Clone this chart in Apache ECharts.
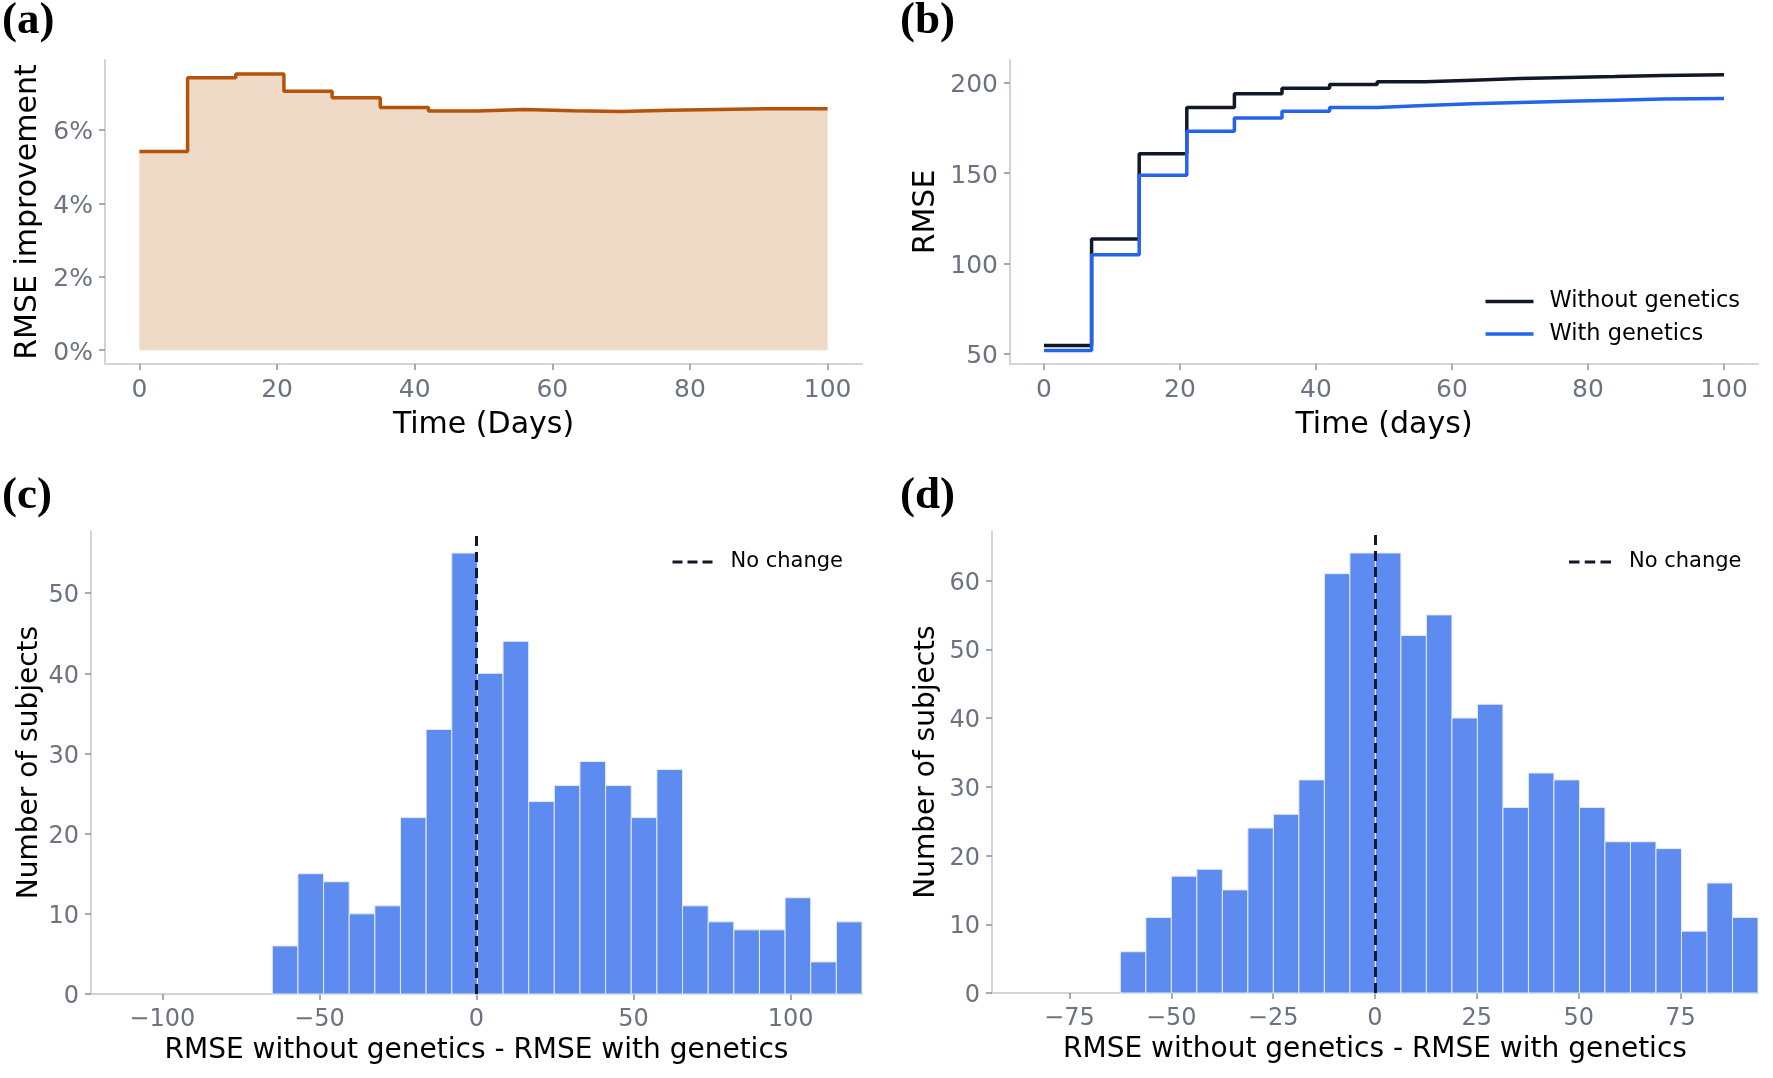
<!DOCTYPE html>
<html>
<head>
<meta charset="utf-8">
<title>RMSE with and without genetics</title>
<script src="https://cdn.jsdelivr.net/npm/echarts@6/dist/echarts.min.js"></script>
<style>
    * { margin: 0; padding: 0; }
    html, body { width: 1773px; height: 1078px; background: #fff; overflow: hidden; }
    #chart { width: 1773px; height: 1078px; }
</style>
</head>
<body>
<div id="chart"></div>
<script>
    // (a) and (b): each value holds from its day until the next day (step plot)
    var days = [0, 7, 14, 21, 28, 35, 42, 49, 56, 63, 70, 77, 84, 91, 100];
    var improvement = [5.41, 7.42, 7.52, 7.05, 6.87, 6.61, 6.51, 6.55, 6.52, 6.50, 6.53, 6.55, 6.57, 6.57, 6.57];
    var rmseWithout = [54.6, 113.5, 160.8, 186.3, 193.9, 197.0, 199.1, 200.6, 201.5, 202.4, 203.0, 203.5, 204.1, 204.5, 204.5];
    var rmseWith = [51.8, 104.9, 148.8, 173.2, 180.6, 184.3, 186.3, 187.4, 188.4, 189.1, 189.8, 190.4, 191.0, 191.3, 191.3];

    // (c) histogram
    var cEdges = [-65.00, -56.84, -48.68, -40.52, -32.36, -24.20, -16.03, -7.87, 0.29, 8.45, 16.61, 24.77,
        32.93, 41.09, 49.25, 57.42, 65.58, 73.74, 81.90, 90.06, 98.22, 106.38, 114.54, 122.70];
    var cCounts = [6, 15, 14, 10, 11, 22, 33, 55, 40, 44, 24, 26, 29, 26, 22, 28, 11, 9, 8, 8, 12, 4, 9];

    // (d) histogram
    var dEdges = [-62.50, -56.24, -49.98, -43.72, -37.46, -31.20, -24.94, -18.68, -12.42, -6.16, 0.10, 6.36,
        12.62, 18.88, 25.14, 31.40, 37.66, 43.92, 50.18, 56.44, 62.70, 68.96, 75.22, 81.48, 87.74, 94.00];
    var dCounts = [6, 11, 17, 18, 15, 24, 26, 31, 61, 64, 64, 52, 55, 40, 42, 27, 32, 31, 27, 22, 22, 21, 9, 16, 11];

    // tick labels
    var aXTicks = [0, 20, 40, 60, 80, 100];
    var aYTicks = [0, 2, 4, 6];
    var bYTicks = [50, 100, 150, 200];
    var cXTicks = [-100, -50, 0, 50, 100];
    var cYTicks = [0, 10, 20, 30, 40, 50];
    var dXTicks = [-75, -50, -25, 0, 25, 50, 75];
    var dYTicks = [0, 10, 20, 30, 40, 50, 60];

    var FONT = 'DejaVu Sans';
    var GRAY = '#6b7280';
    var SPINE = '#d1d5db';
    var INK = '#111827';

    function pairs(xs, ys) {
        return xs.map(function (x, i) { return [x, ys[i]]; });
    }
    function bins(edges, counts) {
        return counts.map(function (n, i) { return [edges[i], edges[i + 1], n]; });
    }
    function minus(v) {
        return v < 0 ? '\u2212' + Math.abs(v) : String(v);
    }

    // opt: name, gap, rotate (y axis), fmt, big (panels a/b use slightly larger text)
    function axis(grid, min, max, ticks, opt) {
        opt = opt || {};
        var isY = !!opt.rotate;
        var fmt = opt.fmt || minus;
        var size = opt.big ? 25 : 24;
        return {
            type: 'value', gridIndex: grid, min: min, max: max,
            name: opt.name || '', nameLocation: 'middle', nameGap: opt.gap || 40,
            nameRotate: opt.rotate || 0,
            nameTextStyle: { fontFamily: FONT, fontSize: opt.big ? 30 : 28, color: '#000' },
            axisLine: { show: true, onZero: false, lineStyle: { color: SPINE, width: 2 } },
            axisTick: { show: true, length: 6, customValues: ticks, lineStyle: { color: '#8b919c', width: 1.5 } },
            axisLabel: {
                customValues: ticks, margin: isY ? 12 : 14, fontFamily: FONT,
                fontSize: size, color: GRAY,
                // y labels sit a little below the tick, like matplotlib's center_baseline
                formatter: isY ? function (v) { return '{v|' + fmt(v) + '}'; } : fmt,
                rich: { v: { fontFamily: FONT, fontSize: size, color: GRAY, padding: [6, 0, 0, 0] } }
            },
            splitLine: { show: false }
        };
    }

    function histItem(params, api) {
        var lo = api.coord([api.value(0), 0]);
        var hi = api.coord([api.value(1), api.value(2)]);
        return {
            type: 'rect',
            shape: { x: lo[0], y: hi[1], width: hi[0] - lo[0], height: lo[1] - hi[1] },
            style: { fill: '#5d8bef', stroke: '#e6ebf8', lineWidth: 1 }
        };
    }

    function noChange(grid) {
        return {
            type: 'line', name: 'No change', xAxisIndex: grid, yAxisIndex: grid,
            data: [], symbol: 'none',
            itemStyle: { color: INK },
            lineStyle: { color: INK, width: 3, type: [10, 6] },
            markLine: {
                silent: true, symbol: 'none', label: { show: false },
                lineStyle: { color: INK, width: 3, type: [10, 6] },
                data: [{ xAxis: 0 }]
            },
            z: 5
        };
    }

    function panelTitle(txt, left, top) {
        return {
            text: txt, left: left, top: top, padding: 0,
            textStyle: { fontFamily: 'Liberation Serif', fontWeight: 'bold', fontSize: 45, color: '#000' }
        };
    }

    // dashed legend sample: three short bars
    var DASHES = 'path://M0,0h10v3h-10z M15,0h10v3h-10z M30,0h10v3h-10z';
    var smallLegendText = { fontFamily: FONT, fontSize: 21, lineHeight: 22, color: '#000', padding: [0, 0, 0, 13] };

    var chart = echarts.init(document.getElementById('chart'), null, { renderer: 'canvas' });
    chart.setOption({
        animation: false,
        backgroundColor: '#fff',
        title: [
            panelTitle('(a)', 2, -1),
            panelTitle('(b)', 900, -1),
            panelTitle('(c)', 2, 474),
            panelTitle('(d)', 900, 474)
        ],
        legend: [
            {
                data: ['Without genetics', 'With genetics'], orient: 'vertical',
                left: 1480.5, top: 285, icon: 'rect', itemWidth: 48, itemHeight: 3.5, itemGap: 9.5,
                textStyle: { fontFamily: FONT, fontSize: 22.5, lineHeight: 22, color: '#000', padding: [0, 0, 0, 11] }
            },
            {
                data: ['No change'], left: 667.5, top: 546, icon: DASHES, itemWidth: 40, itemHeight: 3.5,
                textStyle: smallLegendText
            },
            {
                data: ['No change'], left: 1564, top: 546, icon: DASHES, itemWidth: 42, itemHeight: 3.5,
                textStyle: smallLegendText
            }
        ],
        grid: [
            { left: 105, top: 60, width: 757, height: 304 },
            { left: 1010, top: 60, width: 748, height: 304 },
            { left: 91, top: 531, width: 771, height: 463 },
            { left: 992, top: 531, width: 766, height: 462 }
        ],
        xAxis: [
            axis(0, -5, 105, aXTicks, { name: 'Time (Days)', gap: 46, big: true }),
            axis(1, -5, 105, aXTicks, { name: 'Time (days)', gap: 46, big: true }),
            axis(2, -122.7, 122.7, cXTicks, { name: 'RMSE without genetics - RMSE with genetics', gap: 43 }),
            axis(3, -94, 94, dXTicks, { name: 'RMSE without genetics - RMSE with genetics', gap: 43 })
        ],
        yAxis: [
            axis(0, -0.376, 7.9, aYTicks, { name: 'RMSE improvement', gap: 62, rotate: 90, big: true, fmt: function (v) { return v + '%'; } }),
            axis(1, 44.35, 212.65, bYTicks, { name: 'RMSE', gap: 69, rotate: 90, big: true }),
            axis(2, 0, 57.75, cYTicks, { name: 'Number of subjects', gap: 47, rotate: 90 }),
            axis(3, 0, 67.2, dYTicks, { name: 'Number of subjects', gap: 51.5, rotate: 90 })
        ],
        series: [
            {
                type: 'line', xAxisIndex: 0, yAxisIndex: 0, step: 'end', symbol: 'none',
                data: pairs(days, improvement),
                lineStyle: { color: '#b45309', width: 3.5 },
                areaStyle: { color: '#efd9c7', opacity: 1, origin: 'auto' }
            },
            {
                type: 'line', name: 'Without genetics', xAxisIndex: 1, yAxisIndex: 1, step: 'end', symbol: 'none',
                data: pairs(days, rmseWithout),
                lineStyle: { color: INK, width: 3.5 }, itemStyle: { color: INK }
            },
            {
                type: 'line', name: 'With genetics', xAxisIndex: 1, yAxisIndex: 1, step: 'end', symbol: 'none',
                data: pairs(days, rmseWith),
                lineStyle: { color: '#2563eb', width: 3.5 }, itemStyle: { color: '#2563eb' }
            },
            {
                type: 'custom', xAxisIndex: 2, yAxisIndex: 2, renderItem: histItem,
                encode: { x: [0, 1], y: 2 }, data: bins(cEdges, cCounts)
            },
            noChange(2),
            {
                type: 'custom', xAxisIndex: 3, yAxisIndex: 3, renderItem: histItem,
                encode: { x: [0, 1], y: 2 }, data: bins(dEdges, dCounts)
            },
            noChange(3)
        ]
    });
</script>
</body>
</html>
